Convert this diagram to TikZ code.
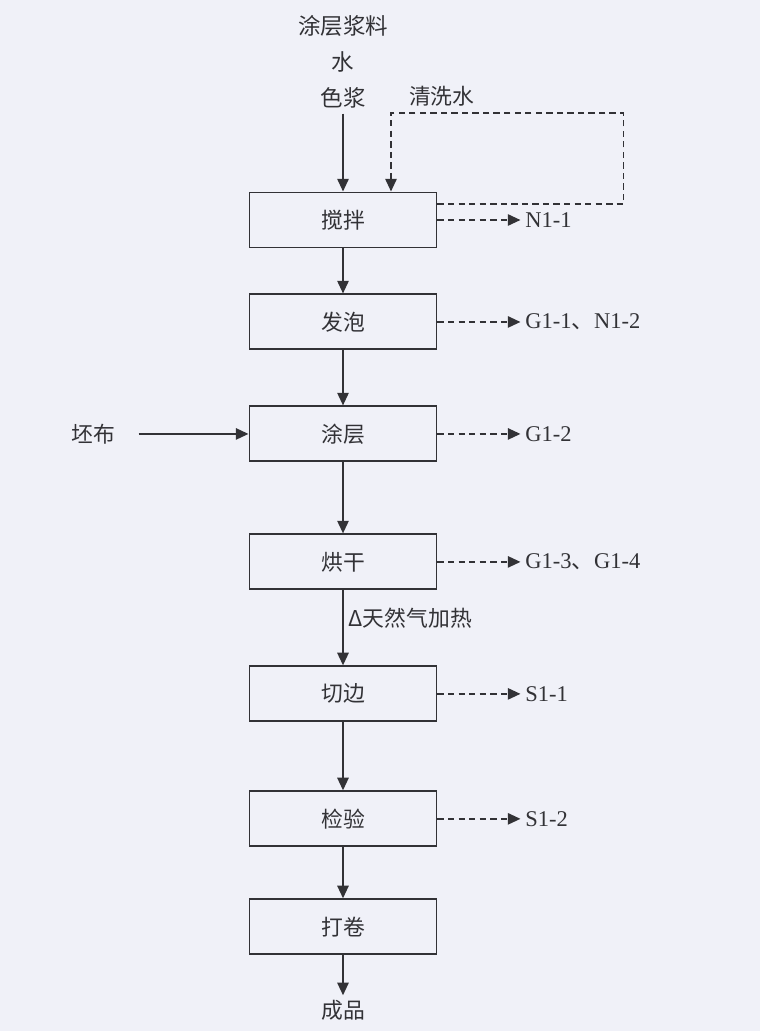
\documentclass[tikz,border=0pt]{standalone}
\usepackage{fontspec}
\setmainfont{Liberation Serif}
\newfontfamily\cjk{Noto Sans CJK SC}
\usetikzlibrary{arrows.meta,positioning}

\definecolor{paper}{RGB}{240,241,248}
\definecolor{ink}{RGB}{50,50,54}

\tikzset{
  stepbox/.style={draw=ink, rectangle, line width=1.4pt, minimum width=4.675cm,
    minimum height=1.375cm, text=ink, font=\cjk\fontsize{15.5}{18}\selectfont},
  cntext/.style={text=ink, font=\cjk\fontsize{15.5}{18}\selectfont},
  outlabel/.style={text=ink, font=\fontsize{16}{19}\selectfont},
  flow/.style={draw=ink, line width=1.4pt, -{Triangle[length=9pt,width=8pt]}},
  waste/.style={flow, dash pattern=on 4.5pt off 3pt},
}

\begin{document}
\begin{tikzpicture}
  \fill[paper] (0,0) rectangle (19,-25.775);
  \useasboundingbox (0,0) rectangle (19,-25.775);

  % main line
  \node[stepbox] (mix) at (8.575,-5.5) {搅拌};
  \node[stepbox, below=1.125cm of mix] (foam) {发泡};
  \node[stepbox, below=1.375cm of foam] (coat) {涂层};
  \node[stepbox, below=1.775cm of coat] (dry) {烘干};
  \node[stepbox, below=1.875cm of dry] (trim) {切边};
  \node[stepbox, below=1.7cm of trim] (check) {检验};
  \node[stepbox, below=1.275cm of check] (roll) {打卷};
  \node[cntext, below=1.0cm of roll] (product) {成品};

  % inputs
  \node[cntext, align=center, font=\cjk\fontsize{16}{25.6}\selectfont,
    above=1.95cm of mix] (feed) {涂层浆料\\水\\色浆};
  \node[cntext, left=3.2cm of coat] (cloth) {坯布};
  \coordinate (washturn) at ([xshift=4.65cm,yshift=2.675cm]mix.center);
  \coordinate (washturn) at ([xshift=4.65cm]washturn -| mix.east);
  \node[cntext, above left=0.05cm and 3.6cm of washturn] (wash) {清洗水};

  % outputs
  \node[outlabel, right=2.075cm of mix] (n11) {N1-1};
  \node[outlabel, right=2.075cm of foam] (g11) {G1-1{\cjk 、}N1-2};
  \node[outlabel, right=2.075cm of coat] (g12) {G1-2};
  \node[outlabel, right=2.075cm of dry] (g13) {G1-3{\cjk 、}G1-4};
  \node[outlabel, right=2.075cm of trim] (s11) {S1-1};
  \node[outlabel, right=2.075cm of check] (s12) {S1-2};

  \draw[flow] (feed) -- (mix);
  \draw[flow] (mix) -- (foam);
  \draw[flow] (foam) -- (coat);
  \draw[flow, shorten <=0.45cm] (cloth) -- (coat);
  \draw[flow] (coat) -- (dry);
  \draw[flow] (dry) -- node[cntext, right, pos=0.37] (heat) {Δ天然气加热} (trim);
  \draw[flow] (trim) -- (check);
  \draw[flow] (check) -- (roll);
  \draw[flow] (roll) -- (product);

  % wash water loop
  \draw[waste] ([yshift=4mm]mix.east) -| (washturn) -| ([xshift=1.2cm]mix.north);

  \draw[waste] (mix) -- (n11);
  \draw[waste] (foam) -- (g11);
  \draw[waste] (coat) -- (g12);
  \draw[waste] (dry) -- (g13);
  \draw[waste] (trim) -- (s11);
  \draw[waste] (check) -- (s12);
\end{tikzpicture}
\end{document}
